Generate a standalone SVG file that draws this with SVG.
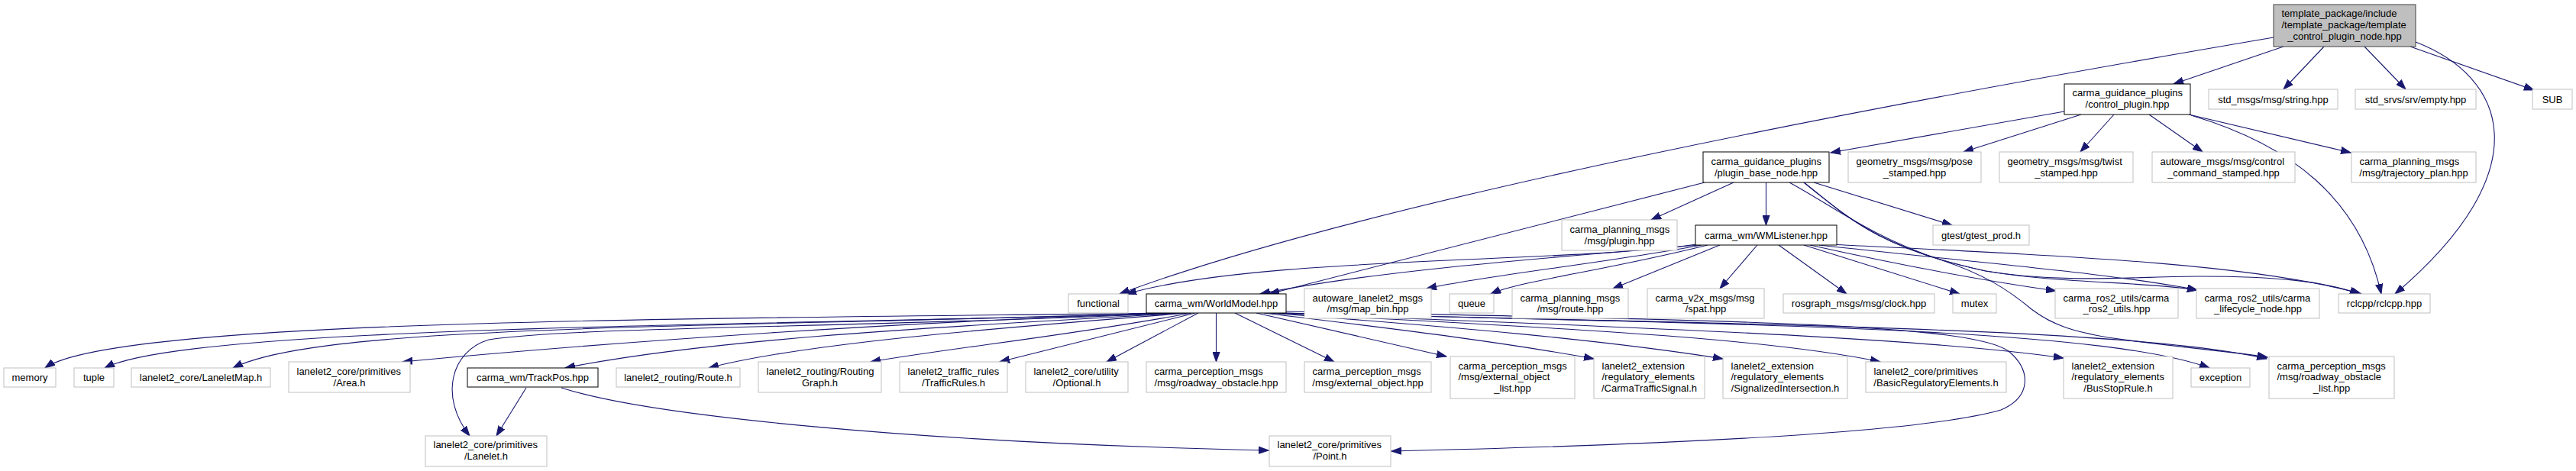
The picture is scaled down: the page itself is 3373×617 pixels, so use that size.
<svg xmlns="http://www.w3.org/2000/svg" width="3373" height="617" viewBox="0 0 3373 617">
<defs>
<style>
text{font-family:"Liberation Sans",Arial,Helvetica,sans-serif;font-size:13px;fill:#000}
.m{text-anchor:middle}
.n rect{fill:#fff;stroke:#bfbfbf;stroke-width:1}
.d rect{fill:#fff;stroke:#000;stroke-width:1}
.r rect{fill:#bfbfbf;stroke:#404040;stroke-width:1}
#edges path{fill:none;stroke:#191970;stroke-width:1.1;marker-end:url(#ah)}
</style>
<marker id="ah" viewBox="0 0 14 10" markerWidth="14" markerHeight="10" refX="13" refY="5" orient="auto" markerUnits="userSpaceOnUse">
<path d="M0,0.4 L13,5 L0,9.6 z" fill="#191970" stroke="#191970" stroke-width="1"/>
</marker>
</defs>
<rect width="3373" height="617" fill="#fff"/>
<g id="edges">
<path d="M2977,49 C2500,130 1800,260 1466,385"/>
<path d="M2990,61 L2846,110"/>
<path d="M3043,61 L2990,117"/>
<path d="M3096,61 L3150,117"/>
<path d="M3156,61 L3318,118"/>
<path d="M3163,55 C3280,100 3330,220 3136,385"/>
<path d="M2703,146 L2397,200"/>
<path d="M2725,150 L2571,199"/>
<path d="M2768,150 L2724,199"/>
<path d="M2814,150 L2884,199"/>
<path d="M2866,150 L3078,200"/>
<path d="M2869,151 C3000,190 3090,260 3118,385"/>
<path d="M2270,239 L2162,288"/>
<path d="M2312.5,239 L2312.5,295"/>
<path d="M2232,239 L1662,385"/>
<path d="M2375,239 L2556,295"/>
<path d="M2362,239 C2420,285 2460,325 2600,355 C2700,372 2800,362 2880,362 C2980,362 3040,368 3090,385"/>
<path d="M2362,239 C2420,285 2460,325 2600,355 C2700,372 2800,368 2877,380"/>
<path d="M2343,239 C2400,270 2450,310 2540,340 C2600,360 2630,380 2660,405 C2690,428 2720,435 2760,442 C2850,455 2920,460 2969,468"/>
<path d="M2222,320 C2050,345 1650,335 1475,385"/>
<path d="M2224,321 C2000,340 1800,355 1650,385"/>
<path d="M2228,321 C2100,345 1950,360 1868,378"/>
<path d="M2236,321 C2100,355 1990,368 1952,385"/>
<path d="M2252,321 L2112,378"/>
<path d="M2301,321 L2252,378"/>
<path d="M2329,321 L2418,385"/>
<path d="M2362,321 L2566,385"/>
<path d="M2370,321 C2500,350 2600,368 2692,381"/>
<path d="M2382,321 C2600,345 2780,360 2877,380"/>
<path d="M2395,320 C2700,335 2950,345 3092,385"/>
<path d="M1535,410 C900,418 150,418 59,482"/>
<path d="M1538,410 C1000,428 250,425 137,482"/>
<path d="M1541,410 C900,430 420,425 305,482"/>
<path d="M1545,410 C1200,420 800,448 527,474"/>
<path d="M1548,410 C1100,430 750,428 640,445 C590,460 575,520 615,571"/>
<path d="M1552,410 C1300,425 950,440 740,482"/>
<path d="M1556,410 C1300,430 1050,450 928,482"/>
<path d="M1560,410 C1400,440 1250,455 1140,474"/>
<path d="M1565,410 L1309,474"/>
<path d="M1569,410 L1449,474"/>
<path d="M1592.5,410 L1592.5,474"/>
<path d="M1617,410 L1747,474"/>
<path d="M1645,410 L1894,467"/>
<path d="M1655,410 C1800,428 1950,445 2087,470"/>
<path d="M1662,410 C1900,428 2100,445 2256,470"/>
<path d="M1668,410 C2000,428 2300,440 2462,474"/>
<path d="M1672,410 C2100,428 2500,440 2702,469"/>
<path d="M1676,410 C2300,425 2750,430 2893,482"/>
<path d="M1680,410 C2300,425 2800,430 2968,470"/>
<path d="M1684,408 C2300,420 2580,425 2630,460 C2660,485 2660,520 2620,537 C2540,560 2300,580 1822,591"/>
<path d="M689,508 L650,571"/>
<path d="M735,508 C850,545 1200,580 1661,590"/>
</g>
<g id="root" class="r"><rect x="2977" y="6" width="186" height="55"/><text x="2987.5" y="22">template_package/include</text><text x="2987.5" y="37">/template_package/template</text><text class="m" x="3070" y="52">_control_plugin_node.hpp</text></g>
<g id="control_plugin" class="d"><rect x="2703" y="110" width="165" height="40"/><text x="2713.5" y="126">carma_guidance_plugins</text><text class="m" x="2785.5" y="141">/control_plugin.hpp</text></g>
<g id="std_msgs_string" class="n"><rect x="2892" y="117" width="169" height="26"/><text class="m" x="2976.5" y="134.5">std_msgs/msg/string.hpp</text></g>
<g id="std_srvs_empty" class="n"><rect x="3084" y="117" width="158" height="26"/><text class="m" x="3163" y="134.5">std_srvs/srv/empty.hpp</text></g>
<g id="sub" class="n"><rect x="3316" y="117" width="52" height="26"/><text class="m" x="3342" y="134.5">SUB</text></g>
<g id="plugin_base_node" class="d"><rect x="2230" y="199" width="165" height="40"/><text x="2240.5" y="215.5">carma_guidance_plugins</text><text class="m" x="2312.5" y="230.5">/plugin_base_node.hpp</text></g>
<g id="pose_stamped" class="n"><rect x="2420" y="199" width="174" height="40"/><text x="2430.5" y="215.5">geometry_msgs/msg/pose</text><text class="m" x="2507" y="230.5">_stamped.hpp</text></g>
<g id="twist_stamped" class="n"><rect x="2618" y="199" width="175" height="40"/><text x="2628.5" y="215.5">geometry_msgs/msg/twist</text><text class="m" x="2705.5" y="230.5">_stamped.hpp</text></g>
<g id="control_command_stamped" class="n"><rect x="2818" y="199" width="187" height="40"/><text x="2828.5" y="215.5">autoware_msgs/msg/control</text><text class="m" x="2911.5" y="230.5">_command_stamped.hpp</text></g>
<g id="trajectory_plan" class="n"><rect x="3079" y="199" width="163" height="40"/><text x="3089.5" y="215.5">carma_planning_msgs</text><text class="m" x="3160.5" y="230.5">/msg/trajectory_plan.hpp</text></g>
<g id="plugin_msg" class="n"><rect x="2045" y="288" width="151" height="40"/><text x="2055.5" y="304.5">carma_planning_msgs</text><text class="m" x="2120.5" y="319.5">/msg/plugin.hpp</text></g>
<g id="wmlistener" class="d"><rect x="2220" y="295" width="185" height="26"/><text class="m" x="2312.5" y="312.5">carma_wm/WMListener.hpp</text></g>
<g id="gtest_prod" class="n"><rect x="2531" y="295" width="126" height="26"/><text class="m" x="2594" y="312.5">gtest/gtest_prod.h</text></g>
<g id="functional" class="n"><rect x="1399" y="385" width="78" height="25"/><text class="m" x="1438" y="402">functional</text></g>
<g id="worldmodel" class="d"><rect x="1501" y="385" width="183" height="25"/><text class="m" x="1592.5" y="402">carma_wm/WorldModel.hpp</text></g>
<g id="map_bin" class="n"><rect x="1708" y="378" width="166" height="39"/><text x="1718.5" y="394.5">autoware_lanelet2_msgs</text><text class="m" x="1791" y="409">/msg/map_bin.hpp</text></g>
<g id="queue" class="n"><rect x="1898" y="385" width="58" height="25"/><text class="m" x="1927" y="402">queue</text></g>
<g id="route_msg" class="n"><rect x="1980" y="378" width="152" height="39"/><text x="1990.5" y="394.5">carma_planning_msgs</text><text class="m" x="2056" y="409">/msg/route.hpp</text></g>
<g id="spat" class="n"><rect x="2157" y="378" width="153" height="39"/><text x="2167.5" y="394.5">carma_v2x_msgs/msg</text><text class="m" x="2233.5" y="409">/spat.hpp</text></g>
<g id="clock" class="n"><rect x="2335" y="385" width="198" height="25"/><text class="m" x="2434" y="402">rosgraph_msgs/msg/clock.hpp</text></g>
<g id="mutex" class="n"><rect x="2557" y="385" width="57" height="25"/><text class="m" x="2585.5" y="402">mutex</text></g>
<g id="carma_ros2_utils" class="n"><rect x="2691" y="378" width="161" height="39"/><text x="2701.5" y="394.5">carma_ros2_utils/carma</text><text class="m" x="2771.5" y="409">_ros2_utils.hpp</text></g>
<g id="lifecycle_node" class="n"><rect x="2876" y="378" width="161" height="39"/><text x="2886.5" y="394.5">carma_ros2_utils/carma</text><text class="m" x="2956.5" y="409">_lifecycle_node.hpp</text></g>
<g id="rclcpp" class="n"><rect x="3062" y="385" width="120" height="25"/><text class="m" x="3122" y="402">rclcpp/rclcpp.hpp</text></g>
<g id="memory" class="n"><rect x="5" y="482" width="68" height="25"/><text class="m" x="39" y="499">memory</text></g>
<g id="tuple" class="n"><rect x="97" y="482" width="52" height="25"/><text class="m" x="123" y="499">tuple</text></g>
<g id="laneletmap" class="n"><rect x="172" y="482" width="182" height="25"/><text class="m" x="263" y="499">lanelet2_core/LaneletMap.h</text></g>
<g id="area" class="n"><rect x="378" y="474" width="159" height="40"/><text x="388.5" y="491">lanelet2_core/primitives</text><text class="m" x="457.5" y="505.5">/Area.h</text></g>
<g id="trackpos" class="d"><rect x="612" y="482" width="171" height="25"/><text class="m" x="697.5" y="499">carma_wm/TrackPos.hpp</text></g>
<g id="route_h" class="n"><rect x="807" y="482" width="162" height="25"/><text class="m" x="888" y="499">lanelet2_routing/Route.h</text></g>
<g id="routinggraph" class="n"><rect x="993" y="474" width="161" height="40"/><text x="1003.5" y="491">lanelet2_routing/Routing</text><text class="m" x="1073.5" y="505.5">Graph.h</text></g>
<g id="trafficrules" class="n"><rect x="1178" y="474" width="141" height="40"/><text x="1188.5" y="491">lanelet2_traffic_rules</text><text class="m" x="1248.5" y="505.5">/TrafficRules.h</text></g>
<g id="optional" class="n"><rect x="1343" y="474" width="134" height="40"/><text x="1353.5" y="491">lanelet2_core/utility</text><text class="m" x="1410" y="505.5">/Optional.h</text></g>
<g id="roadway_obstacle" class="n"><rect x="1501" y="474" width="183" height="40"/><text x="1511.5" y="491">carma_perception_msgs</text><text class="m" x="1592.5" y="505.5">/msg/roadway_obstacle.hpp</text></g>
<g id="external_object" class="n"><rect x="1708" y="474" width="166" height="40"/><text x="1718.5" y="491">carma_perception_msgs</text><text class="m" x="1791" y="505.5">/msg/external_object.hpp</text></g>
<g id="external_object_list" class="n"><rect x="1899" y="467" width="163" height="55"/><text x="1909.5" y="483.5">carma_perception_msgs</text><text x="1909.5" y="498">/msg/external_object</text><text class="m" x="1980.5" y="513">_list.hpp</text></g>
<g id="carmatrafficsignal" class="n"><rect x="2087" y="467" width="145" height="55"/><text x="2097.5" y="483.5">lanelet2_extension</text><text x="2097.5" y="498">/regulatory_elements</text><text class="m" x="2159.5" y="513">/CarmaTrafficSignal.h</text></g>
<g id="signalizedintersection" class="n"><rect x="2256" y="467" width="163" height="55"/><text x="2266.5" y="483.5">lanelet2_extension</text><text x="2266.5" y="498">/regulatory_elements</text><text class="m" x="2337.5" y="513">/SignalizedIntersection.h</text></g>
<g id="basicregulatory" class="n"><rect x="2443" y="474" width="184" height="40"/><text x="2453.5" y="491">lanelet2_core/primitives</text><text class="m" x="2535" y="505.5">/BasicRegulatoryElements.h</text></g>
<g id="busstoprule" class="n"><rect x="2702" y="467" width="143" height="55"/><text x="2712.5" y="483.5">lanelet2_extension</text><text x="2712.5" y="498">/regulatory_elements</text><text class="m" x="2773.5" y="513">/BusStopRule.h</text></g>
<g id="exception" class="n"><rect x="2869" y="482" width="77" height="25"/><text class="m" x="2907.5" y="499">exception</text></g>
<g id="roadway_obstacle_list" class="n"><rect x="2971" y="467" width="164" height="55"/><text x="2981.5" y="483.5">carma_perception_msgs</text><text x="2981.5" y="498">/msg/roadway_obstacle</text><text class="m" x="3053" y="513">_list.hpp</text></g>
<g id="lanelet" class="n"><rect x="557" y="571" width="159" height="40"/><text x="567.5" y="587">lanelet2_core/primitives</text><text class="m" x="636.5" y="602">/Lanelet.h</text></g>
<g id="point" class="n"><rect x="1662" y="571" width="159" height="40"/><text x="1672.5" y="587">lanelet2_core/primitives</text><text class="m" x="1741.5" y="602">/Point.h</text></g>
</svg>
